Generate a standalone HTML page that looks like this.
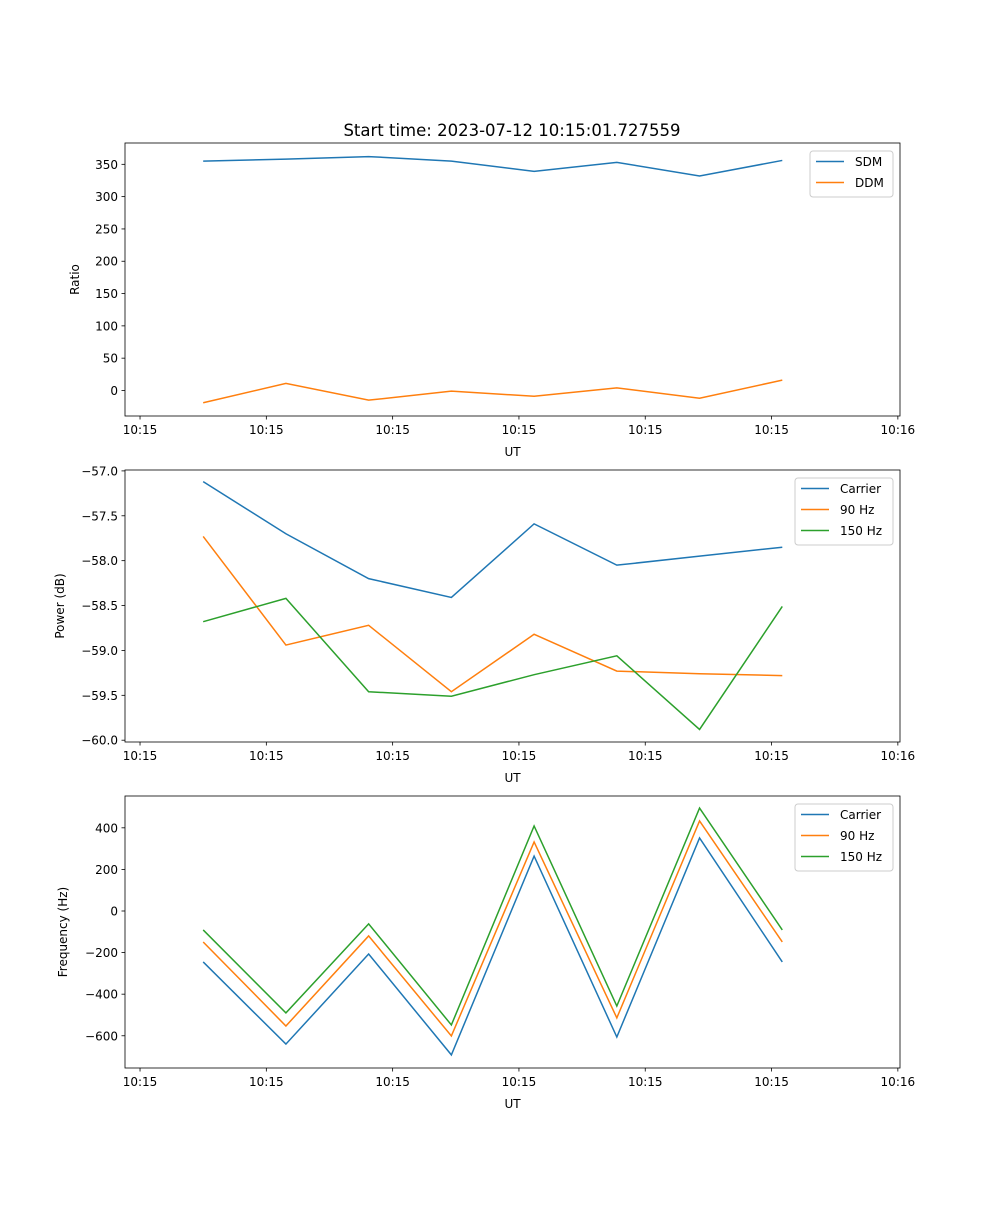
<!DOCTYPE html>
<html><head><meta charset="utf-8"><style>
body{margin:0;background:#fff;}
svg{font-family:"DejaVu Sans","Liberation Sans",sans-serif;}
</style></head><body>
<svg id="chart" width="1000" height="1200" viewBox="0 0 1000 1200" xmlns="http://www.w3.org/2000/svg">
<rect width="1000" height="1200" fill="#fff"/>
<text x="512" y="136" font-size="16.5" text-anchor="middle">Start time: 2023-07-12 10:15:01.727559</text>
</svg>
<script>
const times = [5.0, 11.55, 18.1, 24.65, 31.2, 37.75, 44.3, 50.85];
const xTickSecs = [0, 10, 20, 30, 40, 50, 60];
const xTickLabels = ["10:15","10:15","10:15","10:15","10:15","10:15","10:16"];
const sdm = [355, 358, 362, 355, 339, 353, 332, 356];
const ddm = [-19, 11, -15, -1, -9, 4, -12, 16];
const powCarrier = [-57.12, -57.70, -58.20, -58.41, -57.59, -58.05, -57.95, -57.85];
const pow90 = [-57.73, -58.94, -58.72, -59.46, -58.82, -59.23, -59.26, -59.28];
const pow150 = [-58.68, -58.42, -59.46, -59.51, -59.27, -59.06, -59.88, -58.51];
const frqCarrier = [-245, -640, -207, -692, 264, -606, 351, -245];
const frq90 = [-149, -553, -120, -601, 332, -514, 433, -149];
const frq150 = [-91, -490, -62, -548, 409, -457, 495, -91];
const ratioTicks = [0, 50, 100, 150, 200, 250, 300, 350];
const powTicks = [-60.0, -59.5, -59.0, -58.5, -58.0, -57.5, -57.0];
const frqTicks = [-600, -400, -200, 0, 200, 400];

const NS = "http://www.w3.org/2000/svg";
const svg = document.getElementById("chart");
const C = ["#1f77b4", "#ff7f0e", "#2ca02c"];
function mk(tag, attrs, parent) {
  const e = document.createElementNS(NS, tag);
  for (const k in attrs) e.setAttribute(k, attrs[k]);
  (parent || svg).appendChild(e);
  return e;
}
const L = 125, R = 900;
const xMin = -1.19, xMax = 60.17;
function xs(t) { return L + (t - xMin) / (xMax - xMin) * (R - L); }

function panel(name, top, bot, yMin, yMax, yTicks, fmt, ylabel, series, names, legend) {
  const g = mk("g", {});
  
  
  const ys = v => bot - (v - yMin) / (yMax - yMin) * (bot - top);
  series.forEach((s, i) => {
    const p = mk("polyline", { points: s.map((v, j) => xs(times[j]) + "," + ys(v)).join(" "), fill: "none", stroke: C[i], "stroke-width": 1.5 }, g);
    
    
  });
  const fr = mk("rect", { x: L, y: top, width: R - L, height: bot - top, fill: "none", stroke: "#000", "stroke-width": 0.8 }, g);
  
  
  xTickSecs.forEach((t, i) => {
    const x = xs(t);
    mk("line", { x1: x, x2: x, y1: bot, y2: bot + 3.5, stroke: "#000", "stroke-width": 0.8 }, g);
    const tx = mk("text", { x: x, y: bot + 18, "font-size": 12, "text-anchor": "middle" }, g);
    tx.textContent = xTickLabels[i];
    
    
  });
  const xl = mk("text", { x: (L + R) / 2, y: bot + 40, "font-size": 12, "text-anchor": "middle" }, g);
  xl.textContent = "UT";
  
  
  yTicks.forEach(v => {
    const y = ys(v);
    mk("line", { x1: L - 3.5, x2: L, y1: y, y2: y, stroke: "#000", "stroke-width": 0.8 }, g);
    const tx = mk("text", { x: L - 7, y: y + 4.5, "font-size": 12, "text-anchor": "end" }, g);
    tx.textContent = fmt(v);
    
    
  });
  const yx = legend.ylx, yy = (top + bot) / 2;
  const yl = mk("text", { x: yx, y: yy, "font-size": 12, "text-anchor": "middle", transform: "rotate(-90 " + yx + " " + yy + ")" }, g);
  yl.textContent = ylabel;
  
  
  const lg = mk("g", {}, g);
  
  
  mk("rect", { x: legend.x, y: top + 8, width: 893 - legend.x, height: names.length * 21 + 4, rx: 3, fill: "#fff", stroke: "#ccc", "stroke-width": 1 }, lg);
  names.forEach((n, i) => {
    const y = top + 18.5 + i * 21;
    mk("line", { x1: legend.x + 6, x2: legend.x + 34, y1: y, y2: y, stroke: C[i], "stroke-width": 1.5 }, lg);
    const t = mk("text", { x: legend.x + 45, y: y + 4.5, "font-size": 12 }, lg);
    t.textContent = n;
    
    
  });
}
panel("ratio", 143, 416, -39.5, 383, ratioTicks, v => v < 0 ? "\u2212" + (-v) : String(v), "Ratio", [sdm, ddm], ["SDM", "DDM"], { x: 810, ylx: 79 });
panel("power", 470, 742, -60.02, -56.99, powTicks, v => "\u2212" + (-v).toFixed(1), "Power (dB)", [powCarrier, pow90, pow150], ["Carrier", "90 Hz", "150 Hz"], { x: 795, ylx: 64 });
panel("frequency", 796, 1068, -755, 553, frqTicks, v => v < 0 ? "\u2212" + (-v) : String(v), "Frequency (Hz)", [frqCarrier, frq90, frq150], ["Carrier", "90 Hz", "150 Hz"], { x: 795, ylx: 67 });
</script>
</body></html>
